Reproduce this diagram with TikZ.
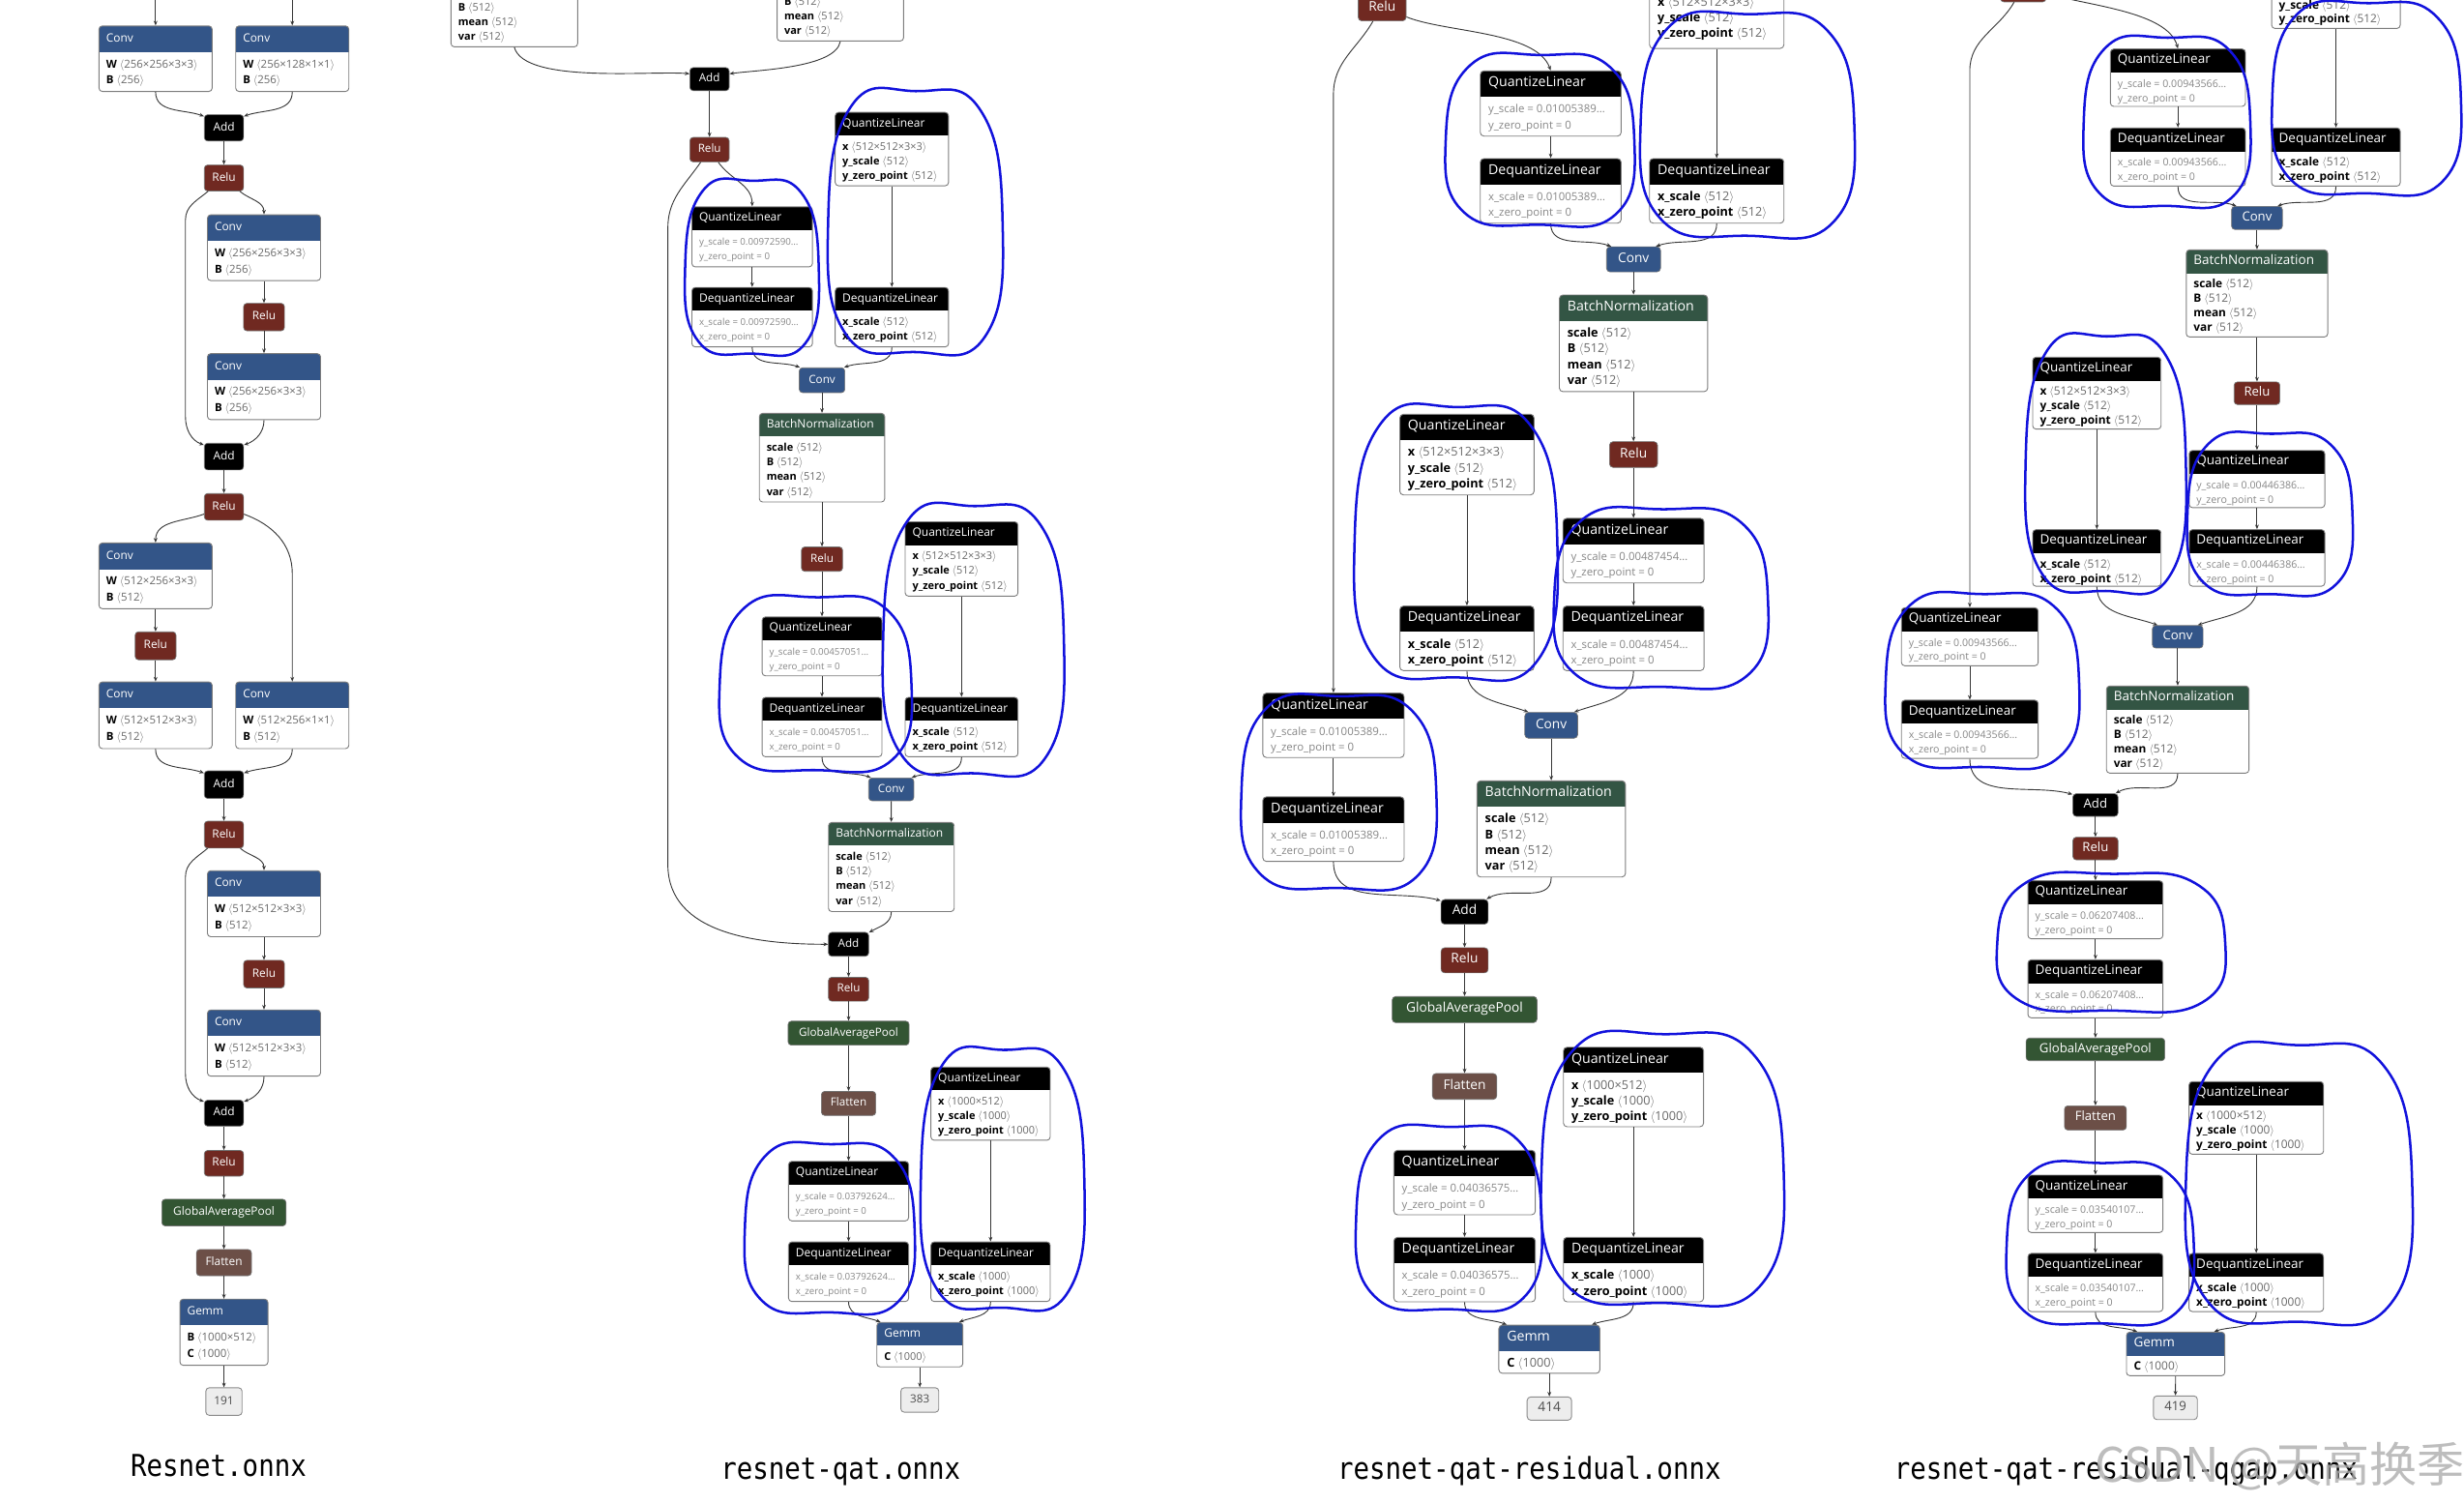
\documentclass[tikz,border=0pt]{standalone}
\usepackage{fontspec}
\setmainfont{Open Sans}
\newfontfamily\lblfont{DejaVu Sans Mono}[FakeStretch=0.88]
\newfontfamily\cjkfont{Noto Sans CJK SC}
\usetikzlibrary{fit,arrows.meta}

\definecolor{layerc}{RGB}{51,85,136}
\definecolor{actc}{RGB}{112,41,33}
\definecolor{normc}{RGB}{51,85,68}
\definecolor{poolc}{RGB}{51,85,51}
\definecolor{shapec}{RGB}{108,79,71}
\definecolor{framec}{RGB}{125,125,125}
\definecolor{valc}{RGB}{105,105,105}
\definecolor{attc}{RGB}{135,135,135}
\definecolor{edgec}{RGB}{55,55,55}
\definecolor{penblue}{RGB}{18,18,220}

\def\NBhh{15}\def\NBap{7.5}\def\NBld{9.3}\def\NBtp{4.5}
\def\NBts{10pt}\def\NBas{8pt}\def\NBos{10pt}\def\NBrc{3pt}\def\NBgs{8pt}
\newcommand\colparams[9]{\gdef\NBhh{#1}\gdef\NBap{#2}\gdef\NBld{#3}\gdef\NBtp{#4}\gdef\NBts{#5}\gdef\NBas{#6}\gdef\NBos{#7}\gdef\NBrc{#8}\gdef\NBgs{#9}}

\newcommand\an[1]{\textbf{#1}}
\newcommand\av[1]{\textcolor{valc}{$\langle$#1$\rangle$}}
\newcommand\ag[1]{{\fontsize{\NBgs}{\NBgs}\selectfont\textcolor{attc}{#1}}}

\tikzset{
  ttl/.style={inner sep=0pt, text=white, font=\fontsize{\NBts}{\NBts}\selectfont},
  attr/.style={inner sep=0pt, text=black, font=\fontsize{\NBas}{\NBas}\selectfont},
  optxt/.style={inner sep=0pt, text=white, font=\fontsize{\NBos}{\NBos}\selectfont},
  boxframe/.style={inner sep=0pt, draw=framec, line width=0.8pt, rounded corners=\NBrc},
  opframe/.style={inner sep=0pt, draw=black!55, line width=0.6pt, rounded corners=\NBrc},
  outframe/.style={inner sep=0pt, draw=black!45, fill=black!7, line width=0.8pt, rounded corners=\NBrc},
  outtxt/.style={inner sep=0pt, text=black!70, font=\fontsize{\NBos}{\NBos}\selectfont},
  flow/.style={draw=edgec, line width=0.8pt, -{Stealth[length=4.2pt,width=3.4pt]}},
  pen/.style={draw=penblue, line width=2.2pt, line cap=round, line join=round},
  lbl/.style={inner sep=0pt, text=black, font=\lblfont\fontsize{27.3pt}{27.3pt}\selectfont},
  wm/.style={inner sep=0pt, text=black!32, opacity=0.8, font=\cjkfont\fontsize{43pt}{43pt}\selectfont},
}

% name, x1, y1, x2, y2, header colour, title, lines
\newcommand\NBox[8]{%
  \begin{scope}
    \clip[rounded corners=\NBrc] (#2,#3) rectangle (#4,#5);
    \fill[white] (#2,#3) rectangle (#4,#5);
    \fill[#6] (#2,#3) rectangle (#4,{#3+\NBhh});
  \end{scope}
  \node[boxframe, fit={(#2,#3) (#4,#5)}] (#1) {};
  \node[ttl, anchor=mid west] at ({#2+\NBtp},{#3+\NBhh/2}) {#7};
  \foreach \lineT [count=\lineN from 0] in {#8}{%
    \node[attr, anchor=mid west] at ({#2+\NBtp},{#3+\NBhh+\NBap+\lineN*\NBld}) {\lineT};}%
}
% name, x1, y1, x2, y2, fill, text
\newcommand\Op[7]{%
  \node[opframe, fill=#6, fit={(#2,#3) (#4,#5)}] (#1) {};
  \node[optxt, anchor=mid] at (#1.center) {#7};
}
\newcommand\Out[6]{%
  \node[outframe, fit={(#2,#3) (#4,#5)}] (#1) {};
  \node[outtxt, anchor=mid] at (#1.center) {#6};
}
\newcommand\Loop[4]{%
  \pgfmathsetmacro\lw{#3-#1}\pgfmathsetmacro\lh{#4-#2}%
  \pgfmathsetmacro\lxm{(#1+#3)/2}\pgfmathsetmacro\lym{(#2+#4)/2}%
  \draw[pen] plot[smooth cycle, tension=0.8] coordinates {(\lxm,#2) ({#3-0.13*\lw},{#2+0.07*\lh}) (#3,\lym) ({#3-0.1*\lw},{#4-0.06*\lh}) (\lxm,#4) ({#1+0.1*\lw},{#4-0.07*\lh}) (#1,\lym) ({#1+0.13*\lw},{#2+0.06*\lh})};
}

\begin{document}
\begin{tikzpicture}[x=0.05cm,y=-0.05cm]
\useasboundingbox (0,0) rectangle (1568,956);
\fill[white] (0,0) rectangle (1568,956);
\clip (0,0) rectangle (1568,956);

% ---------------- Column 1 : Resnet.onnx ----------------
\colparams{16.7}{8}{10.3}{4.5}{10.4pt}{10pt}{10.4pt}{3pt}{8.8pt}
\NBox{c1conv1}{63}{16.5}{135}{58.2}{layerc}{Conv}{\an{W} \av{256×256×3×3},\an{B} \av{256}}
\NBox{c1conv2}{150}{16.5}{222}{58.2}{layerc}{Conv}{\an{W} \av{256×128×1×1},\an{B} \av{256}}
\Op{c1add1}{130}{73}{155}{89.7}{black}{Add}
\Op{c1relu1}{130}{105}{155}{121.5}{actc}{Relu}
\NBox{c1conv3}{132}{136.7}{204}{178.5}{layerc}{Conv}{\an{W} \av{256×256×3×3},\an{B} \av{256}}
\Op{c1relu2}{155}{193}{181}{210.5}{actc}{Relu}
\NBox{c1conv4}{132}{225}{204}{267}{layerc}{Conv}{\an{W} \av{256×256×3×3},\an{B} \av{256}}
\Op{c1add2}{130}{282}{155}{299}{black}{Add}
\Op{c1relu3}{130}{314}{155}{331}{actc}{Relu}
\NBox{c1conv5}{63}{345.5}{135}{387.3}{layerc}{Conv}{\an{W} \av{512×256×3×3},\an{B} \av{512}}
\Op{c1relu4}{86}{402}{112}{419.8}{actc}{Relu}
\NBox{c1conv6}{63}{433.9}{135}{476.3}{layerc}{Conv}{\an{W} \av{512×512×3×3},\an{B} \av{512}}
\NBox{c1conv7}{150}{433.9}{222}{476.3}{layerc}{Conv}{\an{W} \av{512×256×1×1},\an{B} \av{512}}
\Op{c1add3}{130}{490.5}{155}{508}{black}{Add}
\Op{c1relu5}{130}{522.5}{155}{539.6}{actc}{Relu}
\NBox{c1conv8}{132}{554}{204}{596}{layerc}{Conv}{\an{W} \av{512×512×3×3},\an{B} \av{512}}
\Op{c1relu6}{155}{611}{181}{628.6}{actc}{Relu}
\NBox{c1conv9}{132}{642.6}{204}{684.7}{layerc}{Conv}{\an{W} \av{512×512×3×3},\an{B} \av{512}}
\Op{c1add4}{130}{700}{155}{716.5}{black}{Add}
\Op{c1relu7}{130}{732}{155}{748.3}{actc}{Relu}
\Op{c1gap}{103}{763}{182}{780}{poolc}{GlobalAveragePool}
\Op{c1flat}{125}{795}{160}{811.7}{shapec}{Flatten}
\NBox{c1gemm}{114.5}{826.6}{170.5}{868.7}{layerc}{Gemm}{\an{B} \av{1000×512},\an{C} \av{1000}}
\Out{c1out}{131}{883}{154}{900.5}{191}

\coordinate (in1) at (99,-2);
\coordinate (in2) at (186,-2);
\draw[flow] (in1) -- (c1conv1.north);
\draw[flow] (in2) -- (c1conv2.north);
\draw[flow] (c1conv1.south) to[out=-90,in=160] (c1add1.150);
\draw[flow] (c1conv2.south) to[out=-90,in=20] (c1add1.30);
\draw[flow] (c1add1) -- (c1relu1);
\draw[flow] (c1relu1.-40) to[out=-40,in=90] (c1conv3.north);
\draw[flow] (c1relu1.220) to[out=220,in=90] (118,140) -- (118,265) to[out=-90,in=160] (c1add2.150);
\draw[flow] (c1conv3) -- (c1relu2);
\draw[flow] (c1relu2) -- (c1conv4);
\draw[flow] (c1conv4.south) to[out=-90,in=20] (c1add2.30);
\draw[flow] (c1add2) -- (c1relu3);
\draw[flow] (c1relu3.200) to[out=200,in=90] (c1conv5.north);
\draw[flow] (c1relu3.-20) to[out=-20,in=90] (186,365) -- (c1conv7.north);
\draw[flow] (c1conv5) -- (c1relu4);
\draw[flow] (c1relu4) -- (c1conv6);
\draw[flow] (c1conv6.south) to[out=-90,in=160] (c1add3.150);
\draw[flow] (c1conv7.south) to[out=-90,in=20] (c1add3.30);
\draw[flow] (c1add3) -- (c1relu5);
\draw[flow] (c1relu5.-40) to[out=-40,in=90] (c1conv8.north);
\draw[flow] (c1relu5.220) to[out=220,in=90] (118,558) -- (118,683) to[out=-90,in=160] (c1add4.150);
\draw[flow] (c1conv8) -- (c1relu6);
\draw[flow] (c1relu6) -- (c1conv9);
\draw[flow] (c1conv9.south) to[out=-90,in=20] (c1add4.30);
\draw[flow] (c1add4) -- (c1relu7);
\draw[flow] (c1relu7) -- (c1gap);
\draw[flow] (c1gap) -- (c1flat);
\draw[flow] (c1flat) -- (c1gemm);
\draw[flow] (c1gemm) -- (c1out);

% ---------------- Column 2 : resnet-qat.onnx ----------------
\colparams{14.8}{7.5}{9.3}{4.5}{10.5pt}{9.6pt}{10.2pt}{3pt}{8.5pt}
\NBox{c2bnL}{287}{-26.6}{367.6}{29.8}{normc}{BatchNormalization}{\an{scale} \av{512},\an{B} \av{512},\an{mean} \av{512},\an{var} \av{512}}
\NBox{c2bnR}{494.5}{-30.3}{575}{26.1}{normc}{BatchNormalization}{\an{scale} \av{512},\an{B} \av{512},\an{mean} \av{512},\an{var} \av{512}}
\Op{c2addA}{439}{43}{464}{57.7}{black}{Add}
\Op{c2reluA}{439}{87.4}{464}{103}{actc}{Relu}
\NBox{c2ql1}{440.3}{131.6}{517}{169.8}{black}{QuantizeLinear}{\ag{y\_scale = 0.00972590…},\ag{y\_zero\_point = 0}}
\NBox{c2dql1}{440.3}{182.9}{517}{220.7}{black}{DequantizeLinear}{\ag{x\_scale = 0.00972590…},\ag{x\_zero\_point = 0}}
\NBox{c2qlw1}{531.5}{71.5}{603.6}{118.2}{black}{QuantizeLinear}{\an{x} \av{512×512×3×3},\an{y\_scale} \av{512},\an{y\_zero\_point} \av{512}}
\NBox{c2dqlw1}{531.5}{182.9}{603.6}{220.7}{black}{DequantizeLinear}{\an{x\_scale} \av{512},\an{x\_zero\_point} \av{512}}
\Op{c2convA}{508.6}{234}{537.6}{249.8}{layerc}{Conv}
\NBox{c2bnA}{483.2}{263}{563}{319.4}{normc}{BatchNormalization}{\an{scale} \av{512},\an{B} \av{512},\an{mean} \av{512},\an{var} \av{512}}
\Op{c2reluB}{510}{348}{536.2}{363.5}{actc}{Relu}
\NBox{c2qlw2}{576}{332}{647.8}{379.3}{black}{QuantizeLinear}{\an{x} \av{512×512×3×3},\an{y\_scale} \av{512},\an{y\_zero\_point} \av{512}}
\NBox{c2ql2}{485}{392.5}{561.2}{430}{black}{QuantizeLinear}{\ag{y\_scale = 0.00457051…},\ag{y\_zero\_point = 0}}
\NBox{c2dql2}{485}{443.7}{561.2}{481.5}{black}{DequantizeLinear}{\ag{x\_scale = 0.00457051…},\ag{x\_zero\_point = 0}}
\NBox{c2dqlw2}{576}{443.7}{647.8}{481.5}{black}{DequantizeLinear}{\an{x\_scale} \av{512},\an{x\_zero\_point} \av{512}}
\Op{c2convB}{552.8}{495}{581.5}{509.5}{layerc}{Conv}
\NBox{c2bnB}{527.2}{523.3}{607.2}{580}{normc}{BatchNormalization}{\an{scale} \av{512},\an{B} \av{512},\an{mean} \av{512},\an{var} \av{512}}
\Op{c2addB}{527.2}{593.2}{552.8}{608.4}{black}{Add}
\Op{c2reluC}{527.2}{621.8}{552.8}{637}{actc}{Relu}
\Op{c2gap}{501.5}{649.7}{578.5}{665}{poolc}{GlobalAveragePool}
\Op{c2flat}{522.7}{694.4}{557.3}{709.7}{shapec}{Flatten}
\NBox{c2ql3}{501.8}{738.9}{578.2}{776.8}{black}{QuantizeLinear}{\ag{y\_scale = 0.03792624…},\ag{y\_zero\_point = 0}}
\NBox{c2dql3}{501.8}{790.2}{578.2}{828.1}{black}{DequantizeLinear}{\ag{x\_scale = 0.03792624…},\ag{x\_zero\_point = 0}}
\NBox{c2qlw3}{592.4}{679}{668.3}{725.5}{black}{QuantizeLinear}{\an{x} \av{1000×512},\an{y\_scale} \av{1000},\an{y\_zero\_point} \av{1000}}
\NBox{c2dqlw3}{592.4}{790.2}{668.3}{828.1}{black}{DequantizeLinear}{\an{x\_scale} \av{1000},\an{x\_zero\_point} \av{1000}}
\NBox{c2gemm}{558}{841.4}{612.7}{869.7}{layerc}{Gemm}{\an{C} \av{1000}}
\Out{c2out}{573.3}{883}{597.4}{898.5}{383}

\draw[flow] (c2bnL.south) to[out=-75,in=175,looseness=0.55] (c2addA.165);
\draw[flow] (c2bnR.south) to[out=-100,in=8,looseness=0.6] (c2addA.15);
\draw[flow] (c2addA) -- (c2reluA);
\draw[flow] (c2reluA.-55) to[out=-55,in=90] (c2ql1.north);
\draw[flow] (c2reluA.235) to[out=235,in=90] (425,145) -- (425,550) to[out=-90,in=180] (c2addB.west);
\draw[flow] (c2ql1) -- (c2dql1);
\draw[flow] (c2qlw1) -- (c2dqlw1);
\draw[flow] (c2dql1.south) to[out=-90,in=160] (c2convA.150);
\draw[flow] (c2dqlw1.south) to[out=-90,in=20] (c2convA.30);
\draw[flow] (c2convA) -- (c2bnA);
\draw[flow] (c2bnA) -- (c2reluB);
\draw[flow] (c2reluB) -- (c2ql2);
\draw[flow] (c2ql2) -- (c2dql2);
\draw[flow] (c2qlw2) -- (c2dqlw2);
\draw[flow] (c2dql2.south) to[out=-90,in=160] (c2convB.150);
\draw[flow] (c2dqlw2.south) to[out=-90,in=20] (c2convB.30);
\draw[flow] (c2convB) -- (c2bnB);
\draw[flow] (c2bnB.south) to[out=-90,in=30] (c2addB.30);
\draw[flow] (c2addB) -- (c2reluC);
\draw[flow] (c2reluC) -- (c2gap);
\draw[flow] (c2gap) -- (c2flat);
\draw[flow] (c2flat) -- (c2ql3);
\draw[flow] (c2ql3) -- (c2dql3);
\draw[flow] (c2qlw3) -- (c2dqlw3);
\draw[flow] (c2dql3.south) to[out=-90,in=160] (c2gemm.150);
\draw[flow] (c2dqlw3.south) to[out=-90,in=20] (c2gemm.30);
\draw[flow] (c2gemm) -- (c2out);

% ---------------- Column 3 : resnet-qat-residual.onnx ----------------
\colparams{16.4}{8.5}{10}{5}{12.4pt}{11.1pt}{12pt}{3.3pt}{10pt}
\Op{c3reluT}{864.3}{-3}{894.8}{13.3}{actc}{Relu}
\NBox{c3qlwT}{1049.7}{-23}{1135.2}{30.8}{black}{QuantizeLinear}{\an{x} \av{512×512×3×3},\an{y\_scale} \av{512},\an{y\_zero\_point} \av{512}}
\NBox{c3qla}{942}{45.1}{1031.6}{86.6}{black}{QuantizeLinear}{\ag{y\_scale = 0.01005389…},\ag{y\_zero\_point = 0}}
\NBox{c3dqla}{942}{100.9}{1031.6}{142}{black}{DequantizeLinear}{\ag{x\_scale = 0.01005389…},\ag{x\_zero\_point = 0}}
\NBox{c3dqlwa}{1049.7}{100.9}{1135.2}{142}{black}{DequantizeLinear}{\an{x\_scale} \av{512},\an{x\_zero\_point} \av{512}}
\Op{c3convA}{1022.3}{157}{1056.7}{173}{layerc}{Conv}
\NBox{c3bnA}{992.3}{187.7}{1086.7}{249.2}{normc}{BatchNormalization}{\an{scale} \av{512},\an{B} \av{512},\an{mean} \av{512},\an{var} \av{512}}
\Op{c3reluA}{1024.2}{281}{1054.8}{297.4}{actc}{Relu}
\NBox{c3qlw2}{890.8}{263.6}{976.2}{314.9}{black}{QuantizeLinear}{\an{x} \av{512×512×3×3},\an{y\_scale} \av{512},\an{y\_zero\_point} \av{512}}
\NBox{c3dqlw2}{890.8}{385.6}{976.2}{426.7}{black}{DequantizeLinear}{\an{x\_scale} \av{512},\an{x\_zero\_point} \av{512}}
\NBox{c3qlact}{994.6}{329.8}{1084.4}{370.9}{black}{QuantizeLinear}{\ag{y\_scale = 0.00487454…},\ag{y\_zero\_point = 0}}
\NBox{c3dqlact}{994.6}{385.6}{1084.4}{426.7}{black}{DequantizeLinear}{\ag{x\_scale = 0.00487454…},\ag{x\_zero\_point = 0}}
\Op{c3convB}{970.3}{453.3}{1004}{469.7}{layerc}{Conv}
\NBox{c3bnB}{939.9}{496.8}{1034.4}{558}{normc}{BatchNormalization}{\an{scale} \av{512},\an{B} \av{512},\an{mean} \av{512},\an{var} \av{512}}
\NBox{c3qlres}{803.6}{441}{893.5}{482}{black}{QuantizeLinear}{\ag{y\_scale = 0.01005389…},\ag{y\_zero\_point = 0}}
\NBox{c3dqlres}{803.6}{507}{893.5}{548.1}{black}{DequantizeLinear}{\ag{x\_scale = 0.01005389…},\ag{x\_zero\_point = 0}}
\Op{c3addB}{917}{572.3}{947}{588}{black}{Add}
\Op{c3reluB}{917}{603}{947}{619}{actc}{Relu}
\Op{c3gap}{885.9}{634}{978.1}{650.7}{poolc}{GlobalAveragePool}
\Op{c3flat}{911.5}{683}{952.5}{699.5}{shapec}{Flatten}
\NBox{c3qlg}{887}{731.9}{977}{772.9}{black}{QuantizeLinear}{\ag{y\_scale = 0.04036575…},\ag{y\_zero\_point = 0}}
\NBox{c3dqlg}{887}{787.3}{977}{828.3}{black}{DequantizeLinear}{\ag{x\_scale = 0.04036575…},\ag{x\_zero\_point = 0}}
\NBox{c3qlwg}{994.9}{666.3}{1084.1}{716.9}{black}{QuantizeLinear}{\an{x} \av{1000×512},\an{y\_scale} \av{1000},\an{y\_zero\_point} \av{1000}}
\NBox{c3dqlwg}{994.9}{787.3}{1084.1}{828.3}{black}{DequantizeLinear}{\an{x\_scale} \av{1000},\an{x\_zero\_point} \av{1000}}
\NBox{c3gemm}{953.8}{843.1}{1018.1}{873.8}{layerc}{Gemm}{\an{C} \av{1000}}
\Out{c3out}{971.8}{888.8}{1000.1}{903.6}{414}

\draw[flow] (c3reluT.-20) to[out=-22,in=110,looseness=0.7] (c3qla.north);
\draw[flow] (c3reluT.235) to[out=240,in=90] (848.55,60) -- (c3qlres.north);
\draw[flow] (c3qlwT) -- (c3dqlwa);
\draw[flow] (c3qla) -- (c3dqla);
\draw[flow] (c3dqla.south) to[out=-90,in=160] (c3convA.150);
\draw[flow] (c3dqlwa.south) to[out=-90,in=20] (c3convA.30);
\draw[flow] (c3convA) -- (c3bnA);
\draw[flow] (c3bnA) -- (c3reluA);
\draw[flow] (c3reluA) -- (c3qlact);
\draw[flow] (c3qlact) -- (c3dqlact);
\draw[flow] (c3qlw2) -- (c3dqlw2);
\draw[flow] (c3dqlw2.south) to[out=-90,in=160] (c3convB.150);
\draw[flow] (c3dqlact.south) to[out=-90,in=20] (c3convB.30);
\draw[flow] (c3convB) -- (c3bnB);
\draw[flow] (c3bnB.south) to[out=-90,in=30] (c3addB.30);
\draw[flow] (c3qlres) -- (c3dqlres);
\draw[flow] (c3dqlres.south) to[out=-90,in=165] (c3addB.155);
\draw[flow] (c3addB) -- (c3reluB);
\draw[flow] (c3reluB) -- (c3gap);
\draw[flow] (c3gap) -- (c3flat);
\draw[flow] (c3flat) -- (c3qlg);
\draw[flow] (c3qlg) -- (c3dqlg);
\draw[flow] (c3qlwg) -- (c3dqlwg);
\draw[flow] (c3dqlg.south) to[out=-90,in=160] (c3gemm.150);
\draw[flow] (c3dqlwg.south) to[out=-90,in=20] (c3gemm.30);
\draw[flow] (c3gemm) -- (c3out);

% ---------------- Column 4 : resnet-qat-residual-qgap.onnx ----------------
\colparams{15}{7.5}{9.1}{4.5}{11.8pt}{10.4pt}{11.5pt}{3pt}{9.3pt}
\Op{c4reluT}{1273}{-15}{1302}{1.2}{actc}{Relu}
\NBox{c4qlwT}{1445.6}{-27.9}{1527.4}{18.1}{black}{QuantizeLinear}{\an{x} \av{512×512×3×3},\an{y\_scale} \av{512},\an{y\_zero\_point} \av{512}}
\NBox{c4qla}{1343}{31.2}{1428.9}{67.7}{black}{QuantizeLinear}{\ag{y\_scale = 0.00943566…},\ag{y\_zero\_point = 0}}
\NBox{c4dqla}{1343}{81.4}{1428.9}{118.4}{black}{DequantizeLinear}{\ag{x\_scale = 0.00943566…},\ag{x\_zero\_point = 0}}
\NBox{c4dqlwa}{1445.6}{81.4}{1527.4}{118.4}{black}{DequantizeLinear}{\an{x\_scale} \av{512},\an{x\_zero\_point} \av{512}}
\Op{c4convA}{1420.1}{131.3}{1452.4}{146}{layerc}{Conv}
\NBox{c4bnA}{1391.25}{159}{1481.25}{214.4}{normc}{BatchNormalization}{\an{scale} \av{512},\an{B} \av{512},\an{mean} \av{512},\an{var} \av{512}}
\Op{c4reluA}{1421.7}{243}{1450.8}{257.4}{actc}{Relu}
\NBox{c4qlw2}{1293.5}{227.3}{1375.2}{273}{black}{QuantizeLinear}{\an{x} \av{512×512×3×3},\an{y\_scale} \av{512},\an{y\_zero\_point} \av{512}}
\NBox{c4dqlw2}{1293.5}{337}{1375.2}{373}{black}{DequantizeLinear}{\an{x\_scale} \av{512},\an{x\_zero\_point} \av{512}}
\NBox{c4qlact}{1393.1}{286.6}{1479.4}{323}{black}{QuantizeLinear}{\ag{y\_scale = 0.00446386…},\ag{y\_zero\_point = 0}}
\NBox{c4dqlact}{1393.1}{337}{1479.4}{373}{black}{DequantizeLinear}{\ag{x\_scale = 0.00446386…},\ag{x\_zero\_point = 0}}
\Op{c4convB}{1369.7}{398}{1401.9}{412.3}{layerc}{Conv}
\NBox{c4bnB}{1340.45}{436.5}{1431.15}{491.9}{normc}{BatchNormalization}{\an{scale} \av{512},\an{B} \av{512},\an{mean} \av{512},\an{var} \av{512}}
\NBox{c4qlres}{1210}{386.7}{1297}{423.6}{black}{QuantizeLinear}{\ag{y\_scale = 0.00943566…},\ag{y\_zero\_point = 0}}
\NBox{c4dqlres}{1210}{445.5}{1297}{482.5}{black}{DequantizeLinear}{\ag{x\_scale = 0.00943566…},\ag{x\_zero\_point = 0}}
\Op{c4addB}{1319.1}{505}{1347.8}{519.4}{black}{Add}
\Op{c4reluB}{1319.1}{532.7}{1347.8}{547.1}{actc}{Relu}
\NBox{c4ql3}{1290.5}{560.4}{1376.4}{597.3}{black}{QuantizeLinear}{\ag{y\_scale = 0.06207408…},\ag{y\_zero\_point = 0}}
\NBox{c4dql3}{1290.5}{610.7}{1376.4}{647.6}{black}{DequantizeLinear}{\ag{x\_scale = 0.06207408…},\ag{x\_zero\_point = 0}}
\Op{c4gap}{1289.3}{660.5}{1377.6}{674.9}{poolc}{GlobalAveragePool}
\Op{c4flat}{1313.75}{703.6}{1353.15}{719}{shapec}{Flatten}
\NBox{c4ql4}{1290.5}{747.7}{1376.4}{784.2}{black}{QuantizeLinear}{\ag{y\_scale = 0.03540107…},\ag{y\_zero\_point = 0}}
\NBox{c4dql4}{1290.5}{797.5}{1376.4}{834.5}{black}{DequantizeLinear}{\ag{x\_scale = 0.03540107…},\ag{x\_zero\_point = 0}}
\NBox{c4qlw4}{1393}{688.2}{1478.6}{734.4}{black}{QuantizeLinear}{\an{x} \av{1000×512},\an{y\_scale} \av{1000},\an{y\_zero\_point} \av{1000}}
\NBox{c4dqlw4}{1393}{797.5}{1478.6}{834.5}{black}{DequantizeLinear}{\an{x\_scale} \av{1000},\an{x\_zero\_point} \av{1000}}
\NBox{c4gemm}{1353.2}{847.6}{1415.8}{875.3}{layerc}{Gemm}{\an{C} \av{1000}}
\Out{c4out}{1370.4}{888.2}{1398.3}{903.2}{419}

\draw[flow] (c4reluT.-10) to[out=-18,in=105,looseness=0.7] (c4qla.north);
\draw[flow] (c4reluT.235) to[out=240,in=90] (1253.5,45) -- (c4qlres.north);
\draw[flow] (c4qlwT) -- (c4dqlwa);
\draw[flow] (c4qla) -- (c4dqla);
\draw[flow] (c4dqla.south) to[out=-90,in=160] (c4convA.150);
\draw[flow] (c4dqlwa.south) to[out=-90,in=20] (c4convA.30);
\draw[flow] (c4convA) -- (c4bnA);
\draw[flow] (c4bnA) -- (c4reluA);
\draw[flow] (c4reluA) -- (c4qlact);
\draw[flow] (c4qlact) -- (c4dqlact);
\draw[flow] (c4qlw2) -- (c4dqlw2);
\draw[flow] (c4dqlw2.south) to[out=-90,in=160] (c4convB.150);
\draw[flow] (c4dqlact.south) to[out=-90,in=20] (c4convB.30);
\draw[flow] (c4convB) -- (c4bnB);
\draw[flow] (c4bnB.south) to[out=-90,in=30] (c4addB.30);
\draw[flow] (c4qlres) -- (c4dqlres);
\draw[flow] (c4dqlres.south) to[out=-90,in=165] (c4addB.155);
\draw[flow] (c4addB) -- (c4reluB);
\draw[flow] (c4reluB) -- (c4ql3);
\draw[flow] (c4ql3) -- (c4dql3);
\draw[flow] (c4dql3) -- (c4gap);
\draw[flow] (c4gap) -- (c4flat);
\draw[flow] (c4flat) -- (c4ql4);
\draw[flow] (c4ql4) -- (c4dql4);
\draw[flow] (c4qlw4) -- (c4dqlw4);
\draw[flow] (c4dql4.south) to[out=-90,in=160] (c4gemm.150);
\draw[flow] (c4dqlw4.south) to[out=-90,in=20] (c4gemm.30);
\draw[flow] (c4gemm) -- (c4out);

% ---------------- hand-drawn blue loops ----------------
\Loop{436}{115}{521}{225}
\Loop{527}{58}{638}{224}
\Loop{458}{380}{580}{490}
\Loop{562}{322}{677}{492}
\Loop{474}{728}{582}{835}
\Loop{586}{668}{690}{832}
\Loop{920}{35}{1040}{143}
\Loop{1044}{9}{1180}{150}
\Loop{862}{259}{991}{431}
\Loop{989}{324}{1125}{437}
\Loop{790}{443}{914}{565}
\Loop{863}{717}{981}{833}
\Loop{981}{658}{1135}{829}
\Loop{1326}{24}{1432}{131}
\Loop{1446}{2}{1566}{123}
\Loop{1289}{214}{1391}{376}
\Loop{1392}{276}{1497}{378}
\Loop{1200}{378}{1323}{488}
\Loop{1271}{556}{1416}{643}
\Loop{1277}{740}{1396}{842}
\Loop{1391}{665}{1535}{841}

% ---------------- captions ----------------
\node[lbl, anchor=base west] (lab1) at (83,939.5) {Resnet.onnx};
\node[lbl, anchor=base west] (lab2) at (458.5,941.5) {resnet-qat.onnx};
\node[lbl, anchor=base west] (lab3) at (851,941.5) {resnet-qat-residual.onnx};
\node[lbl, anchor=base west] (lab4) at (1205.3,941.5) {resnet-qat-residual-qgap.onnx};
\node[wm, anchor=base west] (wmk) at (1333,943) {CSDN @天高换季};
\end{tikzpicture}
\end{document}
